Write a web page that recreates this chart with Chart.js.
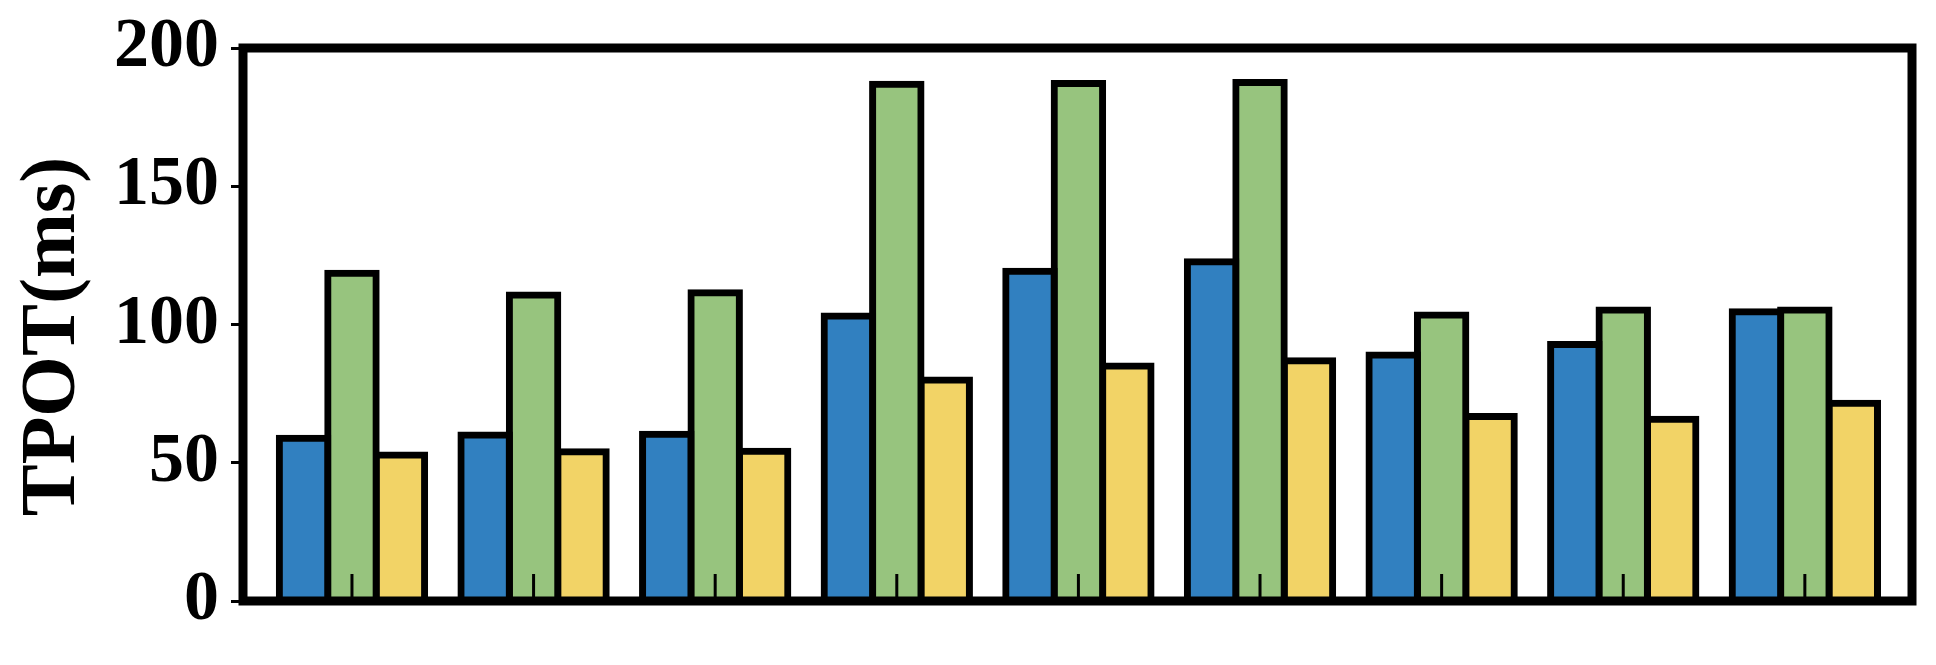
<!DOCTYPE html>
<html>
<head>
<meta charset="utf-8">
<script src="https://cdn.jsdelivr.net/npm/chart.js@4.4.1/dist/chart.umd.min.js"></script>
<style>
  html, body { margin: 0; padding: 0; background: #fff; }
  canvas { display: block; }
</style>
</head>
<body>
<canvas id="tpot-chart" width="1936" height="665"></canvas>
<script>
// group positions on the x axis (the figure shows no names under the groups)
const groups = [0, 1, 2, 3, 4, 5, 6, 7, 8];
const blueValues = [58.9, 60.0, 60.3, 103.1, 119.3, 122.7, 89.0, 92.8, 104.6];
const greenValues = [118.5, 110.7, 111.5, 186.9, 187.2, 187.5, 103.4, 105.2, 105.2];
const yellowValues = [52.8, 54.0, 54.2, 79.9, 85.0, 86.9, 66.7, 65.7, 71.5];
const yTicks = [0, 50, 100, 150, 200];
const yTitle = 'TPOT(ms)';

const serif = "'Liberation Serif', 'Times New Roman', serif";

function toPoints(values) {
    return groups.map((g, i) => ({ x: g, y: values[i] }));
}

function barSet(values, color) {
    return {
        data: toPoints(values),
        backgroundColor: color,
        borderColor: '#000',
        borderWidth: 7,
        inflateAmount: 3.5, // centre the outline on the bar edge
        borderSkipped: 'start',
        barPercentage: 1.0,
        categoryPercentage: 0.8
    };
}

// frame round the plot, the small inward ticks at each group and the y title
const framePlugin = {
    id: 'frame',
    afterDatasetsDraw(chart) {
        const { ctx, chartArea: a, scales } = chart;
        ctx.save();
        ctx.strokeStyle = '#000';
        ctx.lineWidth = 3;
        ctx.beginPath();
        for (const g of groups) {
            const px = scales.x.getPixelForValue(g);
            ctx.moveTo(px, a.bottom);
            ctx.lineTo(px, a.bottom - 27);
        }
        ctx.stroke();
        ctx.lineWidth = 9;
        ctx.strokeRect(a.left, a.top, a.right - a.left, a.bottom - a.top);

        // title sits a little below the middle of the axis in the original
        ctx.translate(54, (a.top + a.bottom) / 2 + 12);
        ctx.rotate(-Math.PI / 2);
        ctx.fillStyle = '#000';
        ctx.font = 'bold 78px ' + serif;
        ctx.textAlign = 'center';
        ctx.textBaseline = 'middle';
        ctx.fillText(yTitle, 0, 0);
        ctx.restore();
    }
};

new Chart(document.getElementById('tpot-chart'), {
    type: 'bar',
    data: {
        datasets: [
            barSet(blueValues, '#3180c0'),
            barSet(greenValues, '#97c47e'),
            barSet(yellowValues, '#f2d366')
        ]
    },
    options: {
        responsive: false,
        devicePixelRatio: 1,
        animation: false,
        layout: { padding: { left: 0, top: 48, right: 24, bottom: 64 } },
        plugins: {
            legend: { display: false },
            tooltip: { enabled: false }
        },
        scales: {
            x: {
                type: 'linear',
                display: false,
                offset: false,
                min: -0.6,
                max: 8.59,
                grid: { offset: false },
                ticks: { stepSize: 1, includeBounds: false }
            },
            y: {
                min: 0,
                max: 200,
                afterBuildTicks: s => { s.ticks = yTicks.map(v => ({ value: v })); },
                afterFit: s => {
                    s.width = 243;
                    // let the layout padding decide where the plot starts
                    s.paddingTop = 0;
                    s.paddingBottom = 0;
                },
                border: { display: false },
                grid: {
                    drawOnChartArea: false,
                    drawTicks: true,
                    tickLength: 12,
                    tickWidth: 3,
                    tickColor: '#000'
                },
                ticks: {
                    padding: 12,
                    color: '#000',
                    font: { family: serif, size: 70, weight: 'bold' }
                },
                title: { display: false }
            }
        }
    },
    plugins: [framePlugin]
});
</script>
</body>
</html>
